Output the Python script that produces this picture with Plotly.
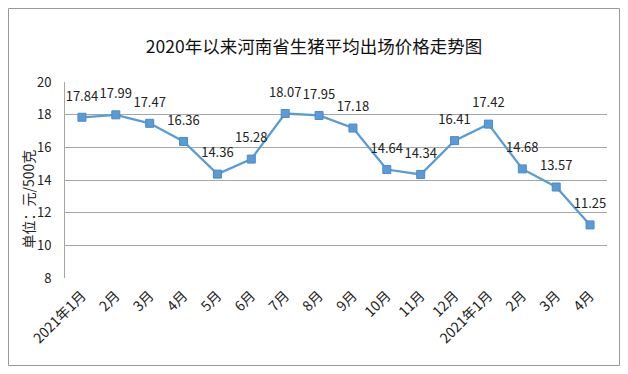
import plotly.graph_objects as go

months = ["2021年1月", "2月", "3月", "4月", "5月", "6月", "7月", "8月", "9月", "10月",
          "11月", "12月", "2021年1月", "2月", "3月", "4月"]
prices = [17.84, 17.99, 17.47, 16.36, 14.36, 15.28, 18.07, 17.95, 17.18, 14.64,
          14.34, 16.41, 17.42, 14.68, 13.57, 11.25]
y_ticks = [8, 10, 12, 14, 16, 18, 20]

x_idx = list(range(len(months)))
FONT = "Noto Sans CJK SC, sans-serif"

fig = go.Figure()
fig.add_trace(go.Scatter(
    x=x_idx, y=prices,
    mode="lines+markers",
    line=dict(color="#5B9BD5", width=2.25),
    marker=dict(symbol="square", size=8, color="#5B9BD5",
                line=dict(color="#4A8AC8", width=1)),
    cliponaxis=False,
    hoverinfo="skip",
))
# data labels (transparent marker sets the label offset)
fig.add_trace(go.Scatter(
    x=x_idx, y=prices,
    mode="markers+text",
    marker=dict(size=20, color="rgba(0,0,0,0)"),
    text=[f"{v:.2f}" for v in prices],
    textposition="top center",
    textfont=dict(family=FONT, size=13, color="#222222"),
    cliponaxis=False,
    hoverinfo="skip",
))

L, R, T, B = 65, 21, 82, 96
W, H = 628, 374
pw, ph = W - L - R, H - T - B

def px(x):
    return (x - L) / pw

def py(y):
    return (H - B - y) / ph

fig.add_shape(type="rect", xref="paper", yref="paper",
              x0=px(8.5), x1=px(619.5), y0=py(365.5), y1=py(8.5),
              line=dict(color="#9A9A9A", width=1), fillcolor="rgba(0,0,0,0)",
              layer="below")

fig.add_annotation(text="单位：元/500克", xref="paper", yref="paper",
                   x=px(39), y=py(250), textangle=-90, showarrow=False,
                   xanchor="right", yanchor="bottom",
                   font=dict(family=FONT, size=14, color="#222222"))

fig.update_layout(
    width=W, height=H,
    margin=dict(l=L, r=R, t=T, b=B, autoexpand=False),
    paper_bgcolor="white", plot_bgcolor="white",
    showlegend=False,
    title=dict(text="2020年以来河南省生猪平均出场价格走势图",
               x=0.5, xref="container", xanchor="center",
               y=1 - 47 / H, yanchor="middle", automargin=False,
               font=dict(family=FONT, size=17.5, color="#111111")),
    xaxis=dict(
        range=[-0.5, len(months) - 0.5], automargin=False,
        tickmode="array", tickvals=x_idx, ticktext=months,
        tickangle=-45, showgrid=False, zeroline=False,
        showline=False, ticks="", ticklabelstandoff=6,
        tickfont=dict(family=FONT, size=14, color="#222222"),
    ),
    yaxis=dict(
        range=[8, 20], tickmode="array", tickvals=y_ticks, automargin=False,
        showgrid=True, gridcolor="#A6A6A6", gridwidth=1,
        zeroline=False, showline=True, linecolor="#A6A6A6", linewidth=1,
        ticks="", ticklabelstandoff=10,
        tickfont=dict(family=FONT, size=13, color="#222222"),
    ),
)

fig.write_html("out.html", config={"displayModeBar": False},
               post_script="document.body.style.margin='0';document.body.style.overflow='hidden';")
